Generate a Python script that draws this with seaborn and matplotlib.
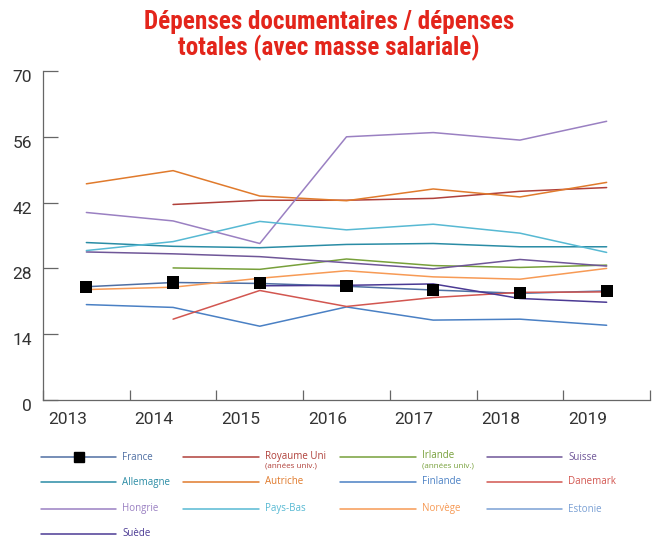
import numpy as np
import pandas as pd
import seaborn as sns
import matplotlib.pyplot as plt
import matplotlib.transforms as mtransforms
import matplotlib.font_manager as fm
from matplotlib.lines import Line2D

nan = np.nan

years = ["2013", "2014", "2015", "2016", "2017", "2018", "2019"]

france = [24.1, 25.0, 24.8, 24.2, 23.4, 22.7, 23.2]
royaume_uni = [nan, 41.6, 42.5, 42.5, 42.9, 44.4, 45.2]
irlande = [nan, 28.1, 27.8, 30.0, 28.6, 28.2, 28.7]
suisse = [31.5, 31.1, 30.5, 29.2, 27.9, 29.9, 28.5]
allemagne = [33.5, 32.7, 32.4, 33.1, 33.3, 32.6, 32.6]
autriche = [46.0, 48.8, 43.4, 42.4, 44.9, 43.2, 46.3]
finlande = [20.3, 19.7, 15.7, 19.8, 17.0, 17.2, 15.9]
danemark = [nan, 17.2, 23.3, 19.9, 21.8, 22.9, 23.0]
hongrie = [39.9, 38.1, 33.3, 56.0, 56.9, 55.3, 59.3]
pays_bas = [31.8, 33.7, 38.0, 36.2, 37.4, 35.5, 31.4]
norvege = [23.5, 24.0, 25.9, 27.5, 26.2, 25.7, 28.0]
estonie = [nan, nan, nan, nan, nan, nan, nan]
suede = [nan, nan, 24.3, 24.4, 24.7, 21.6, 20.8]

countries = ["France", "Royaume Uni", "Irlande", "Suisse",
             "Allemagne", "Autriche", "Finlande", "Danemark",
             "Hongrie", "Pays-Bas", "Norvège", "Estonie",
             "Suède"]
series = [france, royaume_uni, irlande, suisse,
          allemagne, autriche, finlande, danemark,
          hongrie, pays_bas, norvege, estonie,
          suede]
sublabels = {"Royaume Uni": "(années univ.)", "Irlande": "(années univ.)"}

colors = {
    "France": "#4f6fa3",
    "Royaume Uni": "#b0403a",
    "Irlande": "#77a03a",
    "Suisse": "#6f5698",
    "Allemagne": "#2a8ca5",
    "Autriche": "#e07a2c",
    "Finlande": "#4a80c4",
    "Danemark": "#d25650",
    "Hongrie": "#9a80c2",
    "Pays-Bas": "#57b9d3",
    "Norvège": "#f79a55",
    "Estonie": "#7aa0d4",
    "Suède": "#4b3a94",
}

rows = []
for name, vals in zip(countries, series):
    for i, v in enumerate(vals):
        rows.append({"pays": name, "x": i, "valeur": v})
df = pd.DataFrame(rows).dropna()

sns.set_theme(style="white")
plt.rcParams["font.family"] = ["Roboto", "DejaVu Sans"]


def condensed_bold():
    # look for a narrow / condensed bold face, Roboto or Liberation first
    best = None
    for f in fm.fontManager.ttflist:
        key = (f.name + " " + f.fname).lower()
        if not ("narrow" in key or "condensed" in key):
            continue
        if "italic" in key or "oblique" in key:
            continue
        score = 0
        if "bold" in key or f.weight in (700, "bold"):
            score += 10
        if "semibold" in key or "extrabold" in key or "black" in key:
            score -= 5
        if "roboto" in key:
            score += 4
        elif "liberation" in key:
            score += 3
        if best is None or score > best[0]:
            best = (score, f.fname)
    if best is not None:
        return fm.FontProperties(fname=best[1], size=18.5)
    return fm.FontProperties(family="Roboto", weight="bold", size=15)


title_prop = condensed_bold()

W, H = 657, 540
fig = plt.figure(figsize=(W / 100, H / 100), dpi=100)
ax = fig.add_axes([43 / W, 140 / H, 607 / W, 329 / H])

sns.lineplot(data=df, x="x", y="valeur", hue="pays", hue_order=countries,
             palette=colors, estimator=None, linewidth=1.1, legend=False, ax=ax)
fr = df[df["pays"] == "France"]
sns.scatterplot(data=fr, x="x", y="valeur", marker="s", color="black",
                s=75, edgecolor="none", zorder=5, legend=False, ax=ax)

ax.set_xlim(-0.5, 6.5)
ax.set_ylim(0, 70)
ax.set_xlabel("")
ax.set_ylabel("")

# ticks on category boundaries, labels shifted a bit to the left
ax.set_xticks(np.arange(-0.5, 7, 1))
ax.set_xticks(np.arange(len(years)) - 0.22, minor=True)
ax.set_xticklabels(years, minor=True)
ax.tick_params(axis="x", which="major", direction="in", length=7, width=0.9,
               color="#666666", labelbottom=False, bottom=True)
ax.tick_params(axis="x", which="minor", length=0, pad=9, labelsize=12.5,
               labelcolor="#333333", bottom=True)

ax.set_yticks(range(0, 71, 14))
ax.tick_params(axis="y", direction="in", length=11, width=0.9, color="#666666",
               pad=8, labelsize=12.5, labelcolor="#333333", left=True)
shift = mtransforms.ScaledTranslation(0, -5 / 100, fig.dpi_scale_trans)
for lab in ax.get_yticklabels():
    lab.set_transform(lab.get_transform() + shift)

for side in ["top", "right"]:
    ax.spines[side].set_visible(False)
for side in ["left", "bottom"]:
    ax.spines[side].set_color("#666666")
    ax.spines[side].set_linewidth(0.9)

# title, sized so the first line is about 370 px wide
t1 = fig.text(329 / W, 1 - 29 / H, "Dépenses documentaires / dépenses",
              ha="center", va="baseline", fontproperties=title_prop,
              color="#e3251b")
t2 = fig.text(329 / W, 1 - 55 / H, "totales (avec masse salariale)",
              ha="center", va="baseline", fontproperties=title_prop,
              color="#e3251b")
fig.canvas.draw()
w1 = t1.get_window_extent().width
size = title_prop.get_size() * 370 / w1
t1.set_fontsize(size)
t2.set_fontsize(size)

# legend, drawn by hand in 4 columns
col_x = [(41, 116), (183, 259), (340, 416), (487, 562)]
row_y = [457, 482, 509, 534]
for k, name in enumerate(countries):
    x0, x1 = col_x[k % 4]
    y = row_y[k // 4]
    c = colors[name]
    fig.add_artist(Line2D([x0 / W, x1 / W], [1 - y / H, 1 - y / H],
                          transform=fig.transFigure, color=c, linewidth=1.1))
    if name == "France":
        fig.add_artist(Line2D([(x0 + x1) / 2 / W], [1 - y / H],
                              transform=fig.transFigure, marker="s",
                              markersize=7, color="black", linestyle="none"))
    ty = y
    if name in sublabels:
        ty = y - 1
        fig.text((x1 + 6) / W, 1 - (y + 9) / H, sublabels[name], ha="left",
                 va="center", fontsize=5.8, color=c, family="Open Sans")
    fig.text((x1 + 6) / W, 1 - ty / H, name, ha="left", va="center",
             fontsize=7, color=c, family="Open Sans")

fig.savefig("out.png", dpi=100)
